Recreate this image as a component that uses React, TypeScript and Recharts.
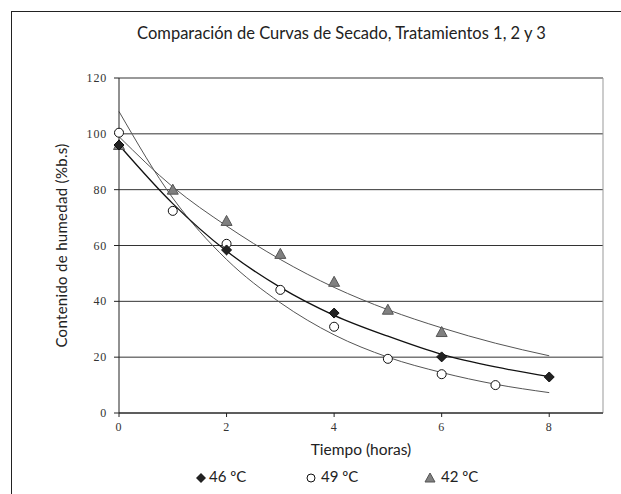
import React from 'react';
import {
  ComposedChart,
  Scatter,
  Line,
  XAxis,
  YAxis,
  CartesianGrid,
  ReferenceLine,
} from 'recharts';

// measured points (hours, % b.s.)
const hours46 = [0, 2, 4, 6, 8];
const moisture46 = [96, 58.4, 35.8, 20.1, 12.9];
const hours49 = [0, 1, 2, 3, 4, 5, 6, 7];
const moisture49 = [100.4, 72.4, 60.6, 44.1, 30.9, 19.4, 13.9, 10];
const hours42 = [0, 1, 2, 3, 4, 5, 6];
const moisture42 = [96, 80, 68.8, 57, 47, 37, 29];

// trend curves
const trendHours = [0, 1, 2, 3, 4, 5, 6, 7, 8];
const trend46 = [96, 75, 58, 45, 35, 27.5, 21, 16.5, 13];
const trend49 = [108, 77, 55, 39.5, 28, 20, 14.5, 10.3, 7.3];
const trend42 = [99, 81, 67, 55, 45, 37, 30.5, 25, 20.5];

const xTicks = [0, 2, 4, 6, 8];
const yTicks = [0, 20, 40, 60, 80, 100, 120];

const toPoints = (xs: number[], ys: number[]) => xs.map((x, i) => ({ x, y: ys[i] }));

const Diamond = (props: any) => {
  const { cx, cy } = props;
  return <path d={`M${cx},${cy - 5}L${cx + 5},${cy}L${cx},${cy + 5}L${cx - 5},${cy}Z`} fill="#222" stroke="#111" />;
};
const Ring = (props: any) => {
  const { cx, cy } = props;
  return <circle cx={cx} cy={cy} r={4.5} fill="#fff" stroke="#111" strokeWidth={1} />;
};
const Tri = (props: any) => {
  const { cx, cy } = props;
  return <path d={`M${cx},${cy - 5.5}L${cx + 5.5},${cy + 4.5}L${cx - 5.5},${cy + 4.5}Z`} fill="#808080" stroke="#555" />;
};

const serif = '"Liberation Serif", "DejaVu Serif", serif';
const sans = 'Lato, "Open Sans", sans-serif';

const XTick = (props: any) => {
  const { x, y, payload } = props;
  return (
    <text x={x} y={y + 12} textAnchor="middle" fontFamily={serif} fontSize={12} fill="#333" letterSpacing={0.8}>
      {payload.value}
    </text>
  );
};
const YTick = (props: any) => {
  const { x, y, payload } = props;
  return (
    <text x={x - 5} y={y + 4} textAnchor="end" fontFamily={serif} fontSize={12} fill="#333" letterSpacing={0.8}>
      {payload.value}
    </text>
  );
};

export default function App() {
  return (
    <div style={{ position: 'absolute', left: 0, top: 0, width: 621, height: 494, background: '#fff', overflow: 'hidden' }}>
      <div style={{ position: 'absolute', left: 11, top: 11, width: 640, height: 520, borderTop: '1.5px solid #222', borderLeft: '1.5px solid #222' }} />
      <div style={{ position: 'absolute', left: 0, width: 683, top: 23, textAlign: 'center', fontFamily: sans, fontSize: 16.5, color: '#222' }}>
        Comparación de Curvas de Secado, Tratamientos 1, 2 y 3
      </div>
      <div style={{ position: 'absolute', top: 0, left: 0 }}>
        <ComposedChart width={621} height={494} margin={{ top: 78, right: 18, bottom: 0, left: 0 }}>
          <CartesianGrid vertical={false} stroke="#333" />
          <XAxis
            type="number"
            dataKey="x"
            domain={[0, 9]}
            ticks={xTicks}
            height={81}
            stroke="#222"
            tickSize={4}
            tick={<XTick />}
            label={{ value: 'Tiempo (horas)', position: 'insideTop', offset: 31, style: { fontFamily: sans, fontSize: 15.5, fill: '#222' } }}
          />
          <YAxis
            type="number"
            dataKey="y"
            domain={[0, 120]}
            ticks={yTicks}
            width={119}
            stroke="#222"
            tickSize={5}
            tick={<YTick />}
            label={{ value: 'Contenido de humedad (%b.s)', angle: -90, position: 'insideLeft', offset: 62, style: { fontFamily: sans, fontSize: 15, fill: '#222', letterSpacing: 0.3, textAnchor: 'middle' } }}
          />
          <ReferenceLine y={120} stroke="#999" />
          <ReferenceLine x={9} stroke="#999" />
          <Line data={toPoints(trendHours, trend49)} dataKey="y" type="monotone" stroke="#555" strokeWidth={1} dot={false} isAnimationActive={false} />
          <Line data={toPoints(trendHours, trend42)} dataKey="y" type="monotone" stroke="#555" strokeWidth={1} dot={false} isAnimationActive={false} />
          <Line data={toPoints(trendHours, trend46)} dataKey="y" type="monotone" stroke="#111" strokeWidth={1.3} dot={false} isAnimationActive={false} />
          <Scatter data={toPoints(hours42, moisture42)} dataKey="y" shape={Tri} isAnimationActive={false} />
          <Scatter data={toPoints(hours49, moisture49)} dataKey="y" shape={Ring} isAnimationActive={false} />
          <Scatter data={toPoints(hours46, moisture46)} dataKey="y" shape={Diamond} isAnimationActive={false} />
        </ComposedChart>
      </div>
      <div style={{ position: 'absolute', top: 467, left: 0, fontFamily: sans, fontSize: 15, color: '#222' }}>
        <svg style={{ position: 'absolute', left: 195, top: 5 }} width={12} height={12}>
          <path d="M6,1L11,6L6,11L1,6Z" fill="#222" />
        </svg>
        <span style={{ position: 'absolute', left: 209, whiteSpace: 'nowrap' }}>46 ºC</span>
        <svg style={{ position: 'absolute', left: 305, top: 5 }} width={12} height={12}>
          <circle cx={6} cy={6} r={4} fill="#fff" stroke="#111" />
        </svg>
        <span style={{ position: 'absolute', left: 321, whiteSpace: 'nowrap' }}>49 ºC</span>
        <svg style={{ position: 'absolute', left: 424, top: 5 }} width={12} height={12}>
          <path d="M6,1L11,10L1,10Z" fill="#808080" stroke="#555" />
        </svg>
        <span style={{ position: 'absolute', left: 441, whiteSpace: 'nowrap' }}>42 ºC</span>
      </div>
    </div>
  );
}
